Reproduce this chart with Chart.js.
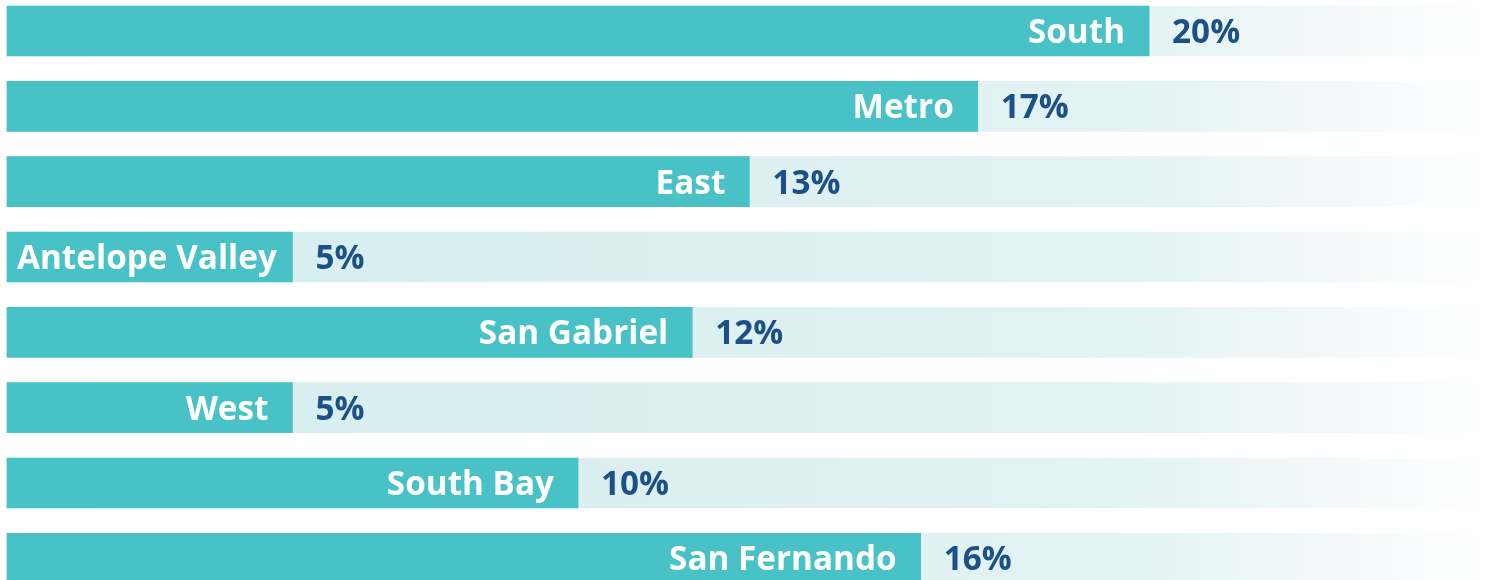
<!DOCTYPE html>
<html>
<head>
<meta charset="utf-8">
<script src="https://cdn.jsdelivr.net/npm/chart.js@4.4.1/dist/chart.umd.min.js"></script>
<style>
  html, body { margin: 0; padding: 0; background: #ffffff; }
  #wrap { width: 1489px; height: 580px; position: relative; }
</style>
</head>
<body>
<div id="wrap"><canvas id="c"></canvas></div>
<script>
const categories = ['South', 'Metro', 'East', 'Antelope Valley', 'San Gabriel', 'West', 'South Bay', 'San Fernando'];
const values = [20, 17, 13, 5, 12, 5, 10, 16];
const axisMax = 25.9;

const barColor = '#48C2C7';
const valueColor = '#1B5187';
const labelFont = '700 33.3px "Open Sans"';

function trackGradient(ctx) {
  const chart = ctx.chart;
  const area = chart.chartArea;
  if (!area) return '#DDF0F1';
  const g = chart.ctx.createLinearGradient(area.left, 0, area.right, 0);
  g.addColorStop(0, '#D4EDEF');
  g.addColorStop(0.5, '#DDF0F2');
  g.addColorStop(0.77, '#E4F3F4');
  g.addColorStop(0.9, '#F3F9FA');
  g.addColorStop(1, '#FFFFFF');
  return g;
}

const labelPlugin = {
  id: 'barLabels',
  afterDatasetsDraw(chart) {
    const meta = chart.getDatasetMeta(0);
    const ctx = chart.ctx;
    ctx.save();
    ctx.font = labelFont;
    ctx.textBaseline = 'middle';
    meta.data.forEach((el, i) => {
      const left = el.base;
      const right = el.x;
      const y = el.y;
      const name = categories[i];
      const w = ctx.measureText(name).width;
      const xr = Math.max(right - 24, left + 10 + w);
      ctx.fillStyle = '#FFFFFF';
      ctx.textAlign = 'right';
      ctx.fillText(name, xr, y + 2.5);
      ctx.fillStyle = valueColor;
      ctx.textAlign = 'left';
      ctx.fillText(values[i] + '%', right + 23, y + 2.5);
    });
    ctx.restore();
  }
};

new Chart(document.getElementById('c'), {
  type: 'bar',
  data: {
    labels: categories,
    datasets: [
      {
        label: 'Share',
        data: values,
        backgroundColor: barColor,
        borderWidth: 0,
        barThickness: 50,
        grouped: false,
        clip: false
      },
      {
        label: 'Track',
        data: categories.map(() => axisMax),
        backgroundColor: trackGradient,
        borderWidth: 0,
        barThickness: 50,
        grouped: false,
        clip: false
      }
    ]
  },
  options: {
    indexAxis: 'y',
    responsive: true,
    maintainAspectRatio: false,
    animation: false,
    layout: { padding: { left: 7, right: 3, top: 31, bottom: 21.7 } },
    plugins: { legend: { display: false }, tooltip: { enabled: false } },
    scales: {
      x: { display: false, min: 0, max: axisMax },
      y: { display: false, offset: false }
    }
  },
  plugins: [labelPlugin]
});
</script>
</body>
</html>
